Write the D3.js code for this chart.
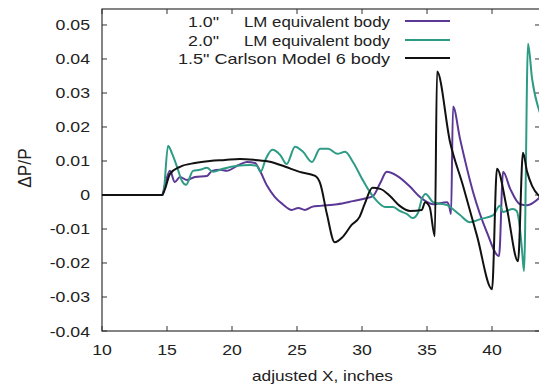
<!DOCTYPE html>
<html>
<head>
<meta charset="utf-8">
<script src="https://cdn.jsdelivr.net/npm/d3@7"></script>
<style>
  html, body { margin: 0; padding: 0; background: #fff; }
  svg { display: block; font-family: "Liberation Sans", Arial, sans-serif; }
</style>
</head>
<body>
<svg id="chart" width="539" height="385"></svg>
<script>
// ─── data ────────────────────────────────────────────────────────────────────

const xTicks = [10, 15, 20, 25, 30, 35, 40];
const yTicks = [-0.04, -0.03, -0.02, -0.01, 0, 0.01, 0.02, 0.03, 0.04, 0.05];
const yTickLabels = ['-0.04', '-0.03', '-0.02', '-0.01', '0', '0.01', '0.02', '0.03', '0.04', '0.05'];

const seriesNames = ['1.0"', '2.0"', '1.5" Carlson Model 6 body'];
const seriesSuffix = ['LM equivalent body', 'LM equivalent body', ''];
const seriesColors = ['#5b3796', '#2e9c84', '#111111'];

// [X, dP/P]
const lm10 = [
  [10, 0], [14.62, 0], [14.85, 0.0032], [15.23, 0.0071], [15.6, 0.0038], [16.0, 0.0053],
  [16.54, 0.0044], [17.15, 0.0053], [18.08, 0.0056], [18.46, 0.0071], [19.08, 0.0074],
  [19.6, 0.0071], [20.4, 0.0086], [21.15, 0.0097], [21.77, 0.0094], [22.15, 0.0071],
  [22.7, 0.0027], [23.3, -0.0006], [23.9, -0.0027], [24.6, -0.0044], [25.1, -0.0038],
  [25.6, -0.0044], [26.15, -0.0035], [26.8, -0.0032], [28.1, -0.0027], [29.3, -0.0018],
  [30.4, -0.0009], [30.85, -0.0003], [31.4, 0.0035], [31.9, 0.0068], [32.7, 0.0056],
  [33.7, 0.0024], [34.46, -0.0006], [35.46, -0.0027], [36.54, -0.0021], [36.7, -0.0032],
  [36.85, -0.0056], [37.0, 0.026], [37.54, 0.0165], [38.54, 0.0009], [39.6, -0.0109],
  [40.54, -0.018], [40.85, 0.0068], [41.4, 0.0018], [42.15, -0.0027], [42.7, -0.003],
  [43.7, -0.0006]
];

const lm20 = [
  [10, 0], [14.7, 0], [15.08, 0.0145], [15.4, 0.0121], [15.77, 0.0083], [16.15, 0.0041],
  [16.46, 0.003], [17.0, 0.0071], [17.54, 0.0074], [18.08, 0.008], [18.54, 0.0068],
  [19.3, 0.0077], [20.4, 0.0086], [21.4, 0.0088], [21.9, 0.0086], [22.2, 0.0068],
  [22.6, 0.0106], [23.1, 0.0133], [23.7, 0.0118], [24.2, 0.0091], [24.85, 0.0142],
  [25.46, 0.0127], [26.15, 0.0097], [26.77, 0.0136], [27.4, 0.0136], [28.1, 0.0121],
  [28.7, 0.0127], [29.3, 0.0097], [30.1, 0.0041], [30.6, 0.0009], [31.15, -0.0018],
  [31.77, -0.0035], [32.4, -0.0035], [32.9, -0.0047], [33.46, -0.0056], [33.9, -0.0068],
  [34.3, -0.0053], [34.6, -0.0012], [34.9, 0.0003], [35.46, -0.0021], [36.54, -0.003],
  [37.54, -0.0059], [38.3, -0.008], [39.1, -0.0071], [40.1, -0.0059], [40.6, -0.0032],
  [40.85, -0.005], [41.6, -0.0041], [41.9, -0.0047], [42.15, -0.01], [42.3, -0.0159],
  [42.46, -0.0224], [42.77, 0.0445], [43.08, 0.0342], [43.7, 0.024]
];

const carlson = [
  [10, 0], [14.62, 0], [14.85, 0.0018], [15.23, 0.0062], [16.0, 0.0083], [17.15, 0.0094],
  [18.3, 0.01], [19.46, 0.0103], [20.6, 0.0106], [21.77, 0.0103], [23.0, 0.0097],
  [24.1, 0.0083], [25.2, 0.0068], [26.4, 0.0056], [26.8, 0.0032], [27.3, -0.0056],
  [27.9, -0.0139], [28.5, -0.0124], [29.2, -0.0088], [29.8, -0.0065], [30.2, -0.0027],
  [30.8, 0.0021], [31.4, 0.0018], [32.15, -0.0003], [32.9, -0.0032], [33.7, -0.0047],
  [34.6, -0.0044], [34.85, -0.0021], [35.2, -0.0035], [35.6, -0.0121], [35.77, 0.0363],
  [36.77, 0.0156], [37.77, 0.0027], [38.85, -0.0121], [40.0, -0.0277], [40.38, 0.0077],
  [41.15, -0.0041], [42.0, -0.0195], [42.38, 0.0124], [42.7, 0.0068], [43.08, 0.0027],
  [43.7, -0.0006]
];

const allSeries = [lm10, lm20, carlson];

// ─── layout ──────────────────────────────────────────────────────────────────

const LEFT = 102, RIGHT = 540, TOP = 9, BOTTOM = 331;
const svg = d3.select('#chart');

const x = d3.scaleLinear().domain([10, 43.69]).range([LEFT, RIGHT]);
const y = d3.scaleLinear().domain([-0.04, 0.0547]).range([BOTTOM, TOP]);

const TICK = 5;
const FONT = 15;
const STRETCH = 1.18; // the scan is a little wide, so text is stretched horizontally

// text helper: places a horizontally stretched label
function label(parent, px, py, str, anchor) {
  return parent.append('text')
    .attr('transform', `translate(${px},${py}) scale(${STRETCH},1)`)
    .attr('text-anchor', anchor || 'start')
    .attr('font-size', FONT)
    .attr('fill', '#222')
    .text(str);
}

// same, but squeezed/stretched to a measured width (start-anchored)
function fitLabel(parent, px, py, str, w) {
  return parent.append('text')
    .attr('x', px).attr('y', py)
    .attr('font-size', FONT)
    .attr('fill', '#222')
    .attr('textLength', w)
    .attr('lengthAdjust', 'spacingAndGlyphs')
    .text(str);
}

// frame
svg.append('rect')
  .attr('x', LEFT).attr('y', TOP)
  .attr('width', RIGHT - LEFT).attr('height', BOTTOM - TOP)
  .attr('fill', 'none').attr('stroke', '#333').attr('stroke-width', 1.2);

// inward ticks on all four sides
const tickG = svg.append('g').attr('stroke', '#333').attr('stroke-width', 1);
for (const t of xTicks) {
  tickG.append('line').attr('x1', x(t)).attr('x2', x(t)).attr('y1', BOTTOM).attr('y2', BOTTOM - TICK);
  tickG.append('line').attr('x1', x(t)).attr('x2', x(t)).attr('y1', TOP).attr('y2', TOP + TICK);
}
for (const t of yTicks) {
  tickG.append('line').attr('x1', LEFT).attr('x2', LEFT + TICK).attr('y1', y(t)).attr('y2', y(t));
  tickG.append('line').attr('x1', RIGHT).attr('x2', RIGHT - TICK).attr('y1', y(t)).attr('y2', y(t));
}

// tick labels
const xl = svg.append('g');
xTicks.forEach((t) => label(xl, x(t), 354.5, String(t), 'middle'));
const yl = svg.append('g');
yTicks.forEach((t, i) => label(yl, 90, y(t) + 5.5, yTickLabels[i], 'end'));

// axis titles
fitLabel(svg, 252, 381, 'adjusted X, inches', 141);

svg.append('text')
  .attr('transform', 'translate(31,168) rotate(-90) scale(1.15,1.18)')
  .attr('text-anchor', 'middle').attr('font-size', FONT).attr('fill', '#222')
  .text('ΔP/P');

// curves
const line = d3.line()
  .x((d) => x(d[0]))
  .y((d) => y(d[1]))
  .curve(d3.curveMonotoneX);
const plot = svg.append('g');
allSeries.forEach((s, i) => {
  plot.append('path')
    .datum(s)
    .attr('fill', 'none')
    .attr('stroke', seriesColors[i])
    .attr('stroke-width', 2)
    .attr('stroke-linejoin', 'round')
    .attr('d', line);
});

// key
const key = svg.append('g');
const keyRows = [21, 40, 58];
seriesNames.forEach((name, i) => {
  const ky = keyRows[i];
  if (seriesSuffix[i]) {
    fitLabel(key, 244, ky + 5.5, seriesSuffix[i], 146);
    fitLabel(key, 188, ky + 5.5, name, 31);
  } else {
    fitLabel(key, 178, ky + 5.5, name, 212);
  }
  key.append('line')
    .attr('x1', 405).attr('x2', 450).attr('y1', ky).attr('y2', ky)
    .attr('stroke', seriesColors[i]).attr('stroke-width', 2);
});
</script>
</body>
</html>
